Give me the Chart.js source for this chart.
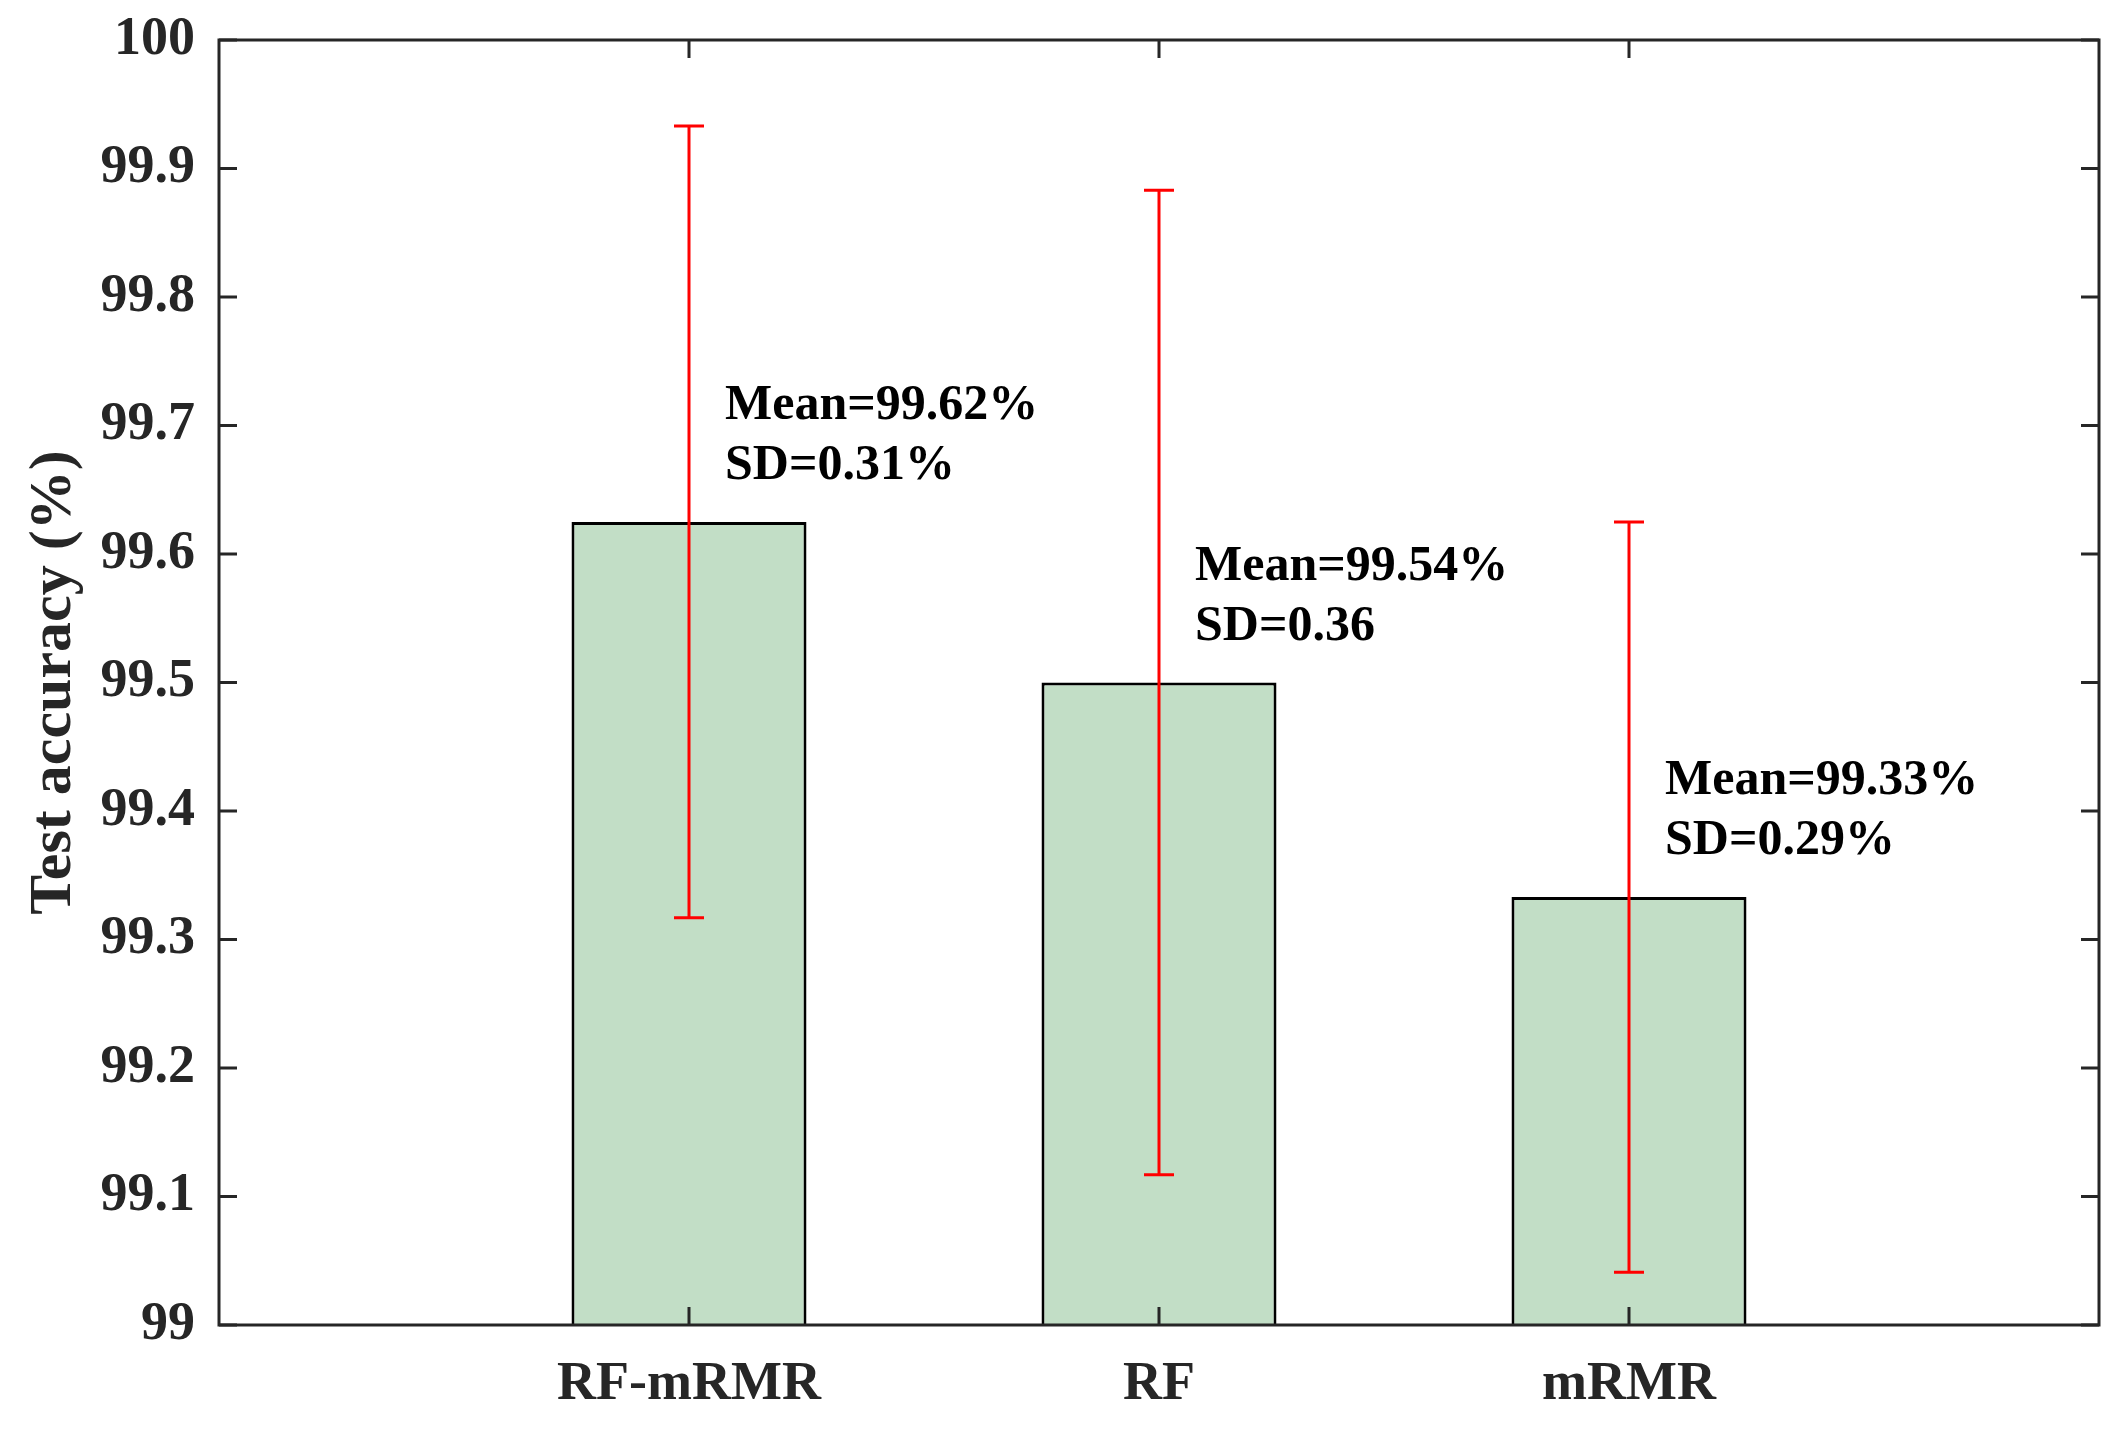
<!DOCTYPE html>
<html>
<head>
<meta charset="utf-8">
<script src="https://cdn.jsdelivr.net/npm/chart.js@4.4.1/dist/chart.umd.min.js"></script>
<style>
  html, body { margin: 0; padding: 0; background: #fff; }
  #wrap { width: 2125px; height: 1430px; }
</style>
</head>
<body>
<div id="wrap"><canvas id="chart"></canvas></div>
<script>
// data
const categories = ['RF-mRMR', 'RF', 'mRMR'];
const positions = [1, 2, 3];
const barValues = [99.625, 99.5, 99.333];
const errors = [0.308, 0.383, 0.292];
const meanLabels = ['Mean=99.62%', 'Mean=99.54%', 'Mean=99.33%'];
const sdLabels = ['SD=0.31%', 'SD=0.36', 'SD=0.29%'];
const yTickValues = [99, 99.1, 99.2, 99.3, 99.4, 99.5, 99.6, 99.7, 99.8, 99.9, 100];
const yTickLabels = ['99', '99.1', '99.2', '99.3', '99.4', '99.5', '99.6', '99.7', '99.8', '99.9', '100'];

const FONT = "'Liberation Serif', 'Times New Roman', serif";
const AXIS = '#262626';

// red error bars with caps
const errorBars = {
  id: 'errorBars',
  afterDatasetsDraw(chart) {
    const { ctx, scales: { x, y } } = chart;
    ctx.save();
    ctx.strokeStyle = '#ff0000';
    ctx.lineWidth = 3;
    barValues.forEach((v, i) => {
      const px = x.getPixelForValue(positions[i]);
      const top = y.getPixelForValue(v + errors[i]);
      const bot = y.getPixelForValue(v - errors[i]);
      ctx.beginPath();
      ctx.moveTo(px, top); ctx.lineTo(px, bot);
      ctx.moveTo(px - 15, top); ctx.lineTo(px + 15, top);
      ctx.moveTo(px - 15, bot); ctx.lineTo(px + 15, bot);
      ctx.stroke();
    });
    ctx.restore();
  }
};

// box frame, inward ticks and text notes
const frame = {
  id: 'frame',
  afterDraw(chart) {
    const { ctx, chartArea: a, scales: { x, y } } = chart;
    ctx.save();
    ctx.strokeStyle = AXIS;
    ctx.lineWidth = 3;
    ctx.strokeRect(a.left, a.top, a.right - a.left, a.bottom - a.top);
    ctx.beginPath();
    yTickValues.forEach(v => {
      const py = y.getPixelForValue(v);
      ctx.moveTo(a.left, py); ctx.lineTo(a.left + 18, py);
      ctx.moveTo(a.right, py); ctx.lineTo(a.right - 18, py);
    });
    positions.forEach(p => {
      const px = x.getPixelForValue(p);
      ctx.moveTo(px, a.bottom); ctx.lineTo(px, a.bottom - 18);
      ctx.moveTo(px, a.top); ctx.lineTo(px, a.top + 18);
    });
    ctx.stroke();

    ctx.fillStyle = '#000';
    ctx.font = 'bold 50px ' + FONT;
    ctx.textAlign = 'left';
    ctx.textBaseline = 'middle';
    barValues.forEach((v, i) => {
      const px = x.getPixelForValue(positions[i]) + 36;
      const py = y.getPixelForValue(v + 0.09);
      ctx.fillText(meanLabels[i], px, py);
      ctx.fillText(sdLabels[i], px, py + 60);
    });
    ctx.restore();
  }
};

new Chart(document.getElementById('chart'), {
  type: 'bar',
  data: {
    datasets: [{
      data: barValues.map((v, i) => ({ x: positions[i], y: v })),
      base: 99,
      backgroundColor: '#c2dec6',
      borderColor: '#000',
      borderWidth: 3,
      borderSkipped: 'start',
      categoryPercentage: 1,
      barPercentage: 0.5
    }]
  },
  options: {
    responsive: true,
    maintainAspectRatio: false,
    devicePixelRatio: 1,
    animation: false,
    layout: { padding: { top: 40, right: 26, left: 0, bottom: 0 } },
    plugins: { legend: { display: false }, tooltip: { enabled: false } },
    scales: {
      x: {
        type: 'linear',
        min: 0,
        max: 4,
        offset: false,
        grid: { display: false, drawTicks: false, offset: false },
        border: { display: false },
        afterBuildTicks: s => { s.ticks = positions.map(p => ({ value: p })); },
        afterFit: s => { s.height = 105; s.paddingLeft = 0; s.paddingRight = 0; },
        ticks: {
          padding: 28,
          color: AXIS,
          font: { family: FONT, size: 54, weight: 'bold' },
          callback: (v, i) => categories[i]
        }
      },
      y: {
        min: 99,
        max: 100,
        grid: { display: false, drawTicks: false },
        border: { display: false },
        afterBuildTicks: s => { s.ticks = yTickValues.map(v => ({ value: v })); },
        afterFit: s => { s.width = 219; s.paddingTop = 0; s.paddingBottom = 0; },
        ticks: {
          padding: 24,
          color: AXIS,
          font: { family: FONT, size: 54, weight: 'bold' },
          callback: (v, i) => yTickLabels[i]
        },
        title: {
          display: true,
          text: 'Test accuracy (%)',
          color: AXIS,
          font: { family: FONT, size: 60, weight: 'bold' },
          padding: { top: 18, bottom: 0 }
        }
      }
    }
  },
  plugins: [errorBars, frame]
});
</script>
</body>
</html>
